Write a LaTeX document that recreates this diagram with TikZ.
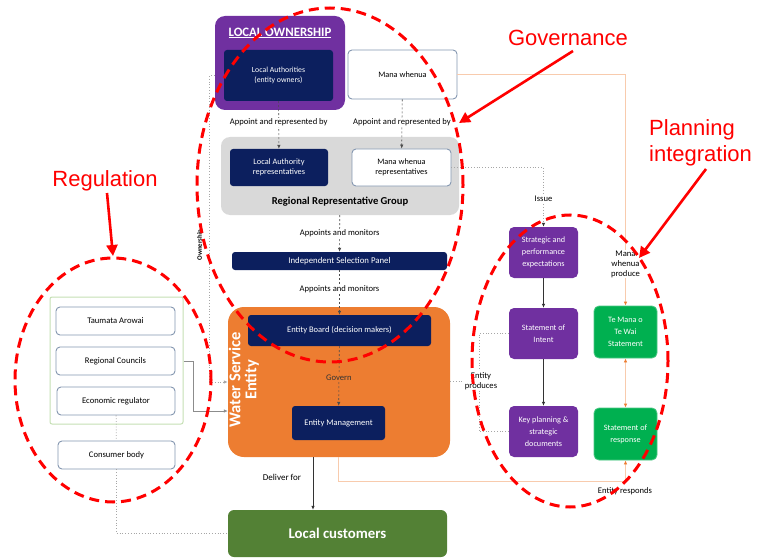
\documentclass[tikz,border=0pt]{standalone}
\usepackage{fontspec}
\setmainfont{Carlito}
\newfontfamily\arialf{Liberation Sans}
\usetikzlibrary{arrows.meta}
\definecolor{ownpurple}{HTML}{7030A0}
\definecolor{navy}{HTML}{0C1F5E}
\definecolor{greybg}{HTML}{D9D9D9}
\definecolor{wseorange}{HTML}{ED7D31}
\definecolor{custgreen}{HTML}{538135}
\definecolor{brightgreen}{HTML}{00B050}
\definecolor{boxborder}{HTML}{8497B0}
\definecolor{reggreen}{HTML}{C5E0B4}
\definecolor{lineorange}{HTML}{F8CBAD}
\definecolor{dotgrey}{HTML}{A6A6A6}
\definecolor{annred}{HTML}{FF0000}
\tikzset{
  box/.style={rounded corners=4pt, inner sep=1pt, align=center, font=\fontsize{8.3}{10}\selectfont},
  navybox/.style={box, fill=navy, text=white, rounded corners=3pt},
  whitebox/.style={box, fill=white, draw=boxborder, line width=0.9pt},
  regbox/.style={whitebox, font=\fontsize{8.6}{10}\selectfont},
  purplebox/.style={box, fill=ownpurple, text=white, font=\fontsize{8.2}{12}\selectfont, rounded corners=5pt},
  greenbox/.style={box, fill=brightgreen, draw=brightgreen!70!white, line width=0.8pt, text=white, font=\fontsize{8.2}{12}\selectfont, rounded corners=5pt},
  lbl/.style={font=\fontsize{8.6}{10}\selectfont, inner sep=1pt, fill=white, align=center},
  tip/.style={-{Latex[length=4pt,width=3.5pt]}},
  dashconn/.style={draw=black!70, dash pattern=on 2pt off 2pt, line width=0.6pt, tip},
  dotconn/.style={draw=dotgrey, dotted, line width=0.8pt},
  solidconn/.style={draw=black!80, line width=0.7pt, tip},
  greyconn/.style={draw=black!45, line width=0.6pt},
  orconn/.style={draw=lineorange, line width=0.8pt},
  ortip/.style={-{Latex[length=4pt,width=3.5pt,color=wseorange]}},
  annot/.style={draw=annred, line width=3pt, dash pattern=on 10pt off 6pt},
  annarrow/.style={draw=annred, line width=2.6pt, -{Triangle[length=11pt,width=11pt]}},
  anntext/.style={text=annred, font=\arialf\fontsize{22}{26}\selectfont, inner sep=0pt, align=left}
}
\begin{document}
\begin{tikzpicture}[x=1pt,y=-1pt]
\useasboundingbox[fill=white] (0,0) rectangle (763,559);

% ---------- Governance ----------
\node[fill=ownpurple, rounded corners=10pt, minimum width=130pt, minimum height=94pt] (own) at (280,63) {};
\node[text=white, font=\bfseries\fontsize{12.8}{14}\selectfont, inner sep=0pt] (ownt) at (280,33) {\underline{LOCAL OWNERSHIP}};
\node[navybox, minimum width=109pt, minimum height=51pt, font=\fontsize{7.8}{10}\selectfont] (la) at (278.5,75.5) {Local Authorities\\(entity owners)};
\node[whitebox, minimum width=109pt, minimum height=49pt] (mw) at (402.5,74.5) {Mana whenua};

\node[fill=greybg, rounded corners=9pt, minimum width=238pt, minimum height=78pt] (rrg) at (340,176) {};
\node[font=\bfseries\fontsize{10.6}{12}\selectfont, inner sep=0pt] (rrgt) at (340,202) {Regional Representative Group};
\node[navybox, minimum width=98pt, minimum height=37pt] (lar) at (279,167.5) {Local Authority\\representatives};
\node[whitebox, minimum width=99pt, minimum height=37pt] (mwr) at (401.5,167.5) {Mana whenua\\representatives};

\draw[dashconn] (la) -- node[lbl, pos=0.45]{Appoint and represented by} (lar);
\draw[dashconn] (mw) -- node[lbl, pos=0.47]{Appoint and represented by} (mwr);

\node[navybox, minimum width=215pt, minimum height=18pt, font=\fontsize{8.8}{10}\selectfont] (isp) at (339.5,261) {Independent Selection Panel};
\draw[dashconn] (rrg) -- node[lbl]{Appoints and monitors} (isp);

% ---------- Water Service Entity ----------
\node[fill=wseorange, rounded corners=16pt, minimum width=222pt, minimum height=150pt] (wse) at (339,382) {};
\node[rotate=90, text=white, font=\bfseries\fontsize{16.5}{16}\selectfont, align=center, inner sep=0pt] (wset) at (244,380) {Water Service\\Entity};
\node[navybox, minimum width=183pt, minimum height=31pt, font=\fontsize{8.5}{10}\selectfont] (eb) at (339.5,330.5) {Entity Board (decision makers)};
\node[navybox, minimum width=93pt, minimum height=34pt, font=\fontsize{8.5}{10}\selectfont] (em) at (338.5,423) {Entity Management};
\draw[dashconn] (isp) -- node[lbl, pos=0.42]{Appoints and monitors} (eb);
\draw[dashconn] (eb) -- node[lbl, fill=wseorange, text=black!80, pos=0.53]{Govern} (em);

% ---------- Local customers ----------
\node[fill=custgreen, rounded corners=6pt, minimum width=219pt, minimum height=47pt, text=white, font=\bfseries\fontsize{14.8}{16}\selectfont] (lc) at (337.5,533.5) {Local customers};
\coordinate (dlv) at (313,480);
\draw[solidconn] (wse.south -| dlv) -- (lc.north -| dlv);
\node[font=\fontsize{9}{10}\selectfont, inner sep=1pt] (dlvt) at (282,477) {Deliver for};

% ---------- Regulation ----------
\node[draw=reggreen, line width=1pt, rounded corners=2pt, minimum width=133pt, minimum height=127pt] (reg) at (116.5,360.5) {};
\node[regbox, minimum width=119pt, minimum height=28pt] (ta) at (115.5,321) {Taumata Arowai};
\node[regbox, minimum width=119pt, minimum height=28pt] (rc) at (115.5,361) {Regional Councils};
\node[regbox, minimum width=118pt, minimum height=28pt] (ec) at (116,401) {Economic regulator};
\node[regbox, minimum width=117pt, minimum height=28pt] (cb) at (116.5,455) {Consumer body};
\draw[dotconn] (ec) -- (cb);
\draw[dotconn] (cb.south) |- (lc.west);
\draw[greyconn, tip] (reg.east |- rc.east) -- ++(10,0) |- ([yshift=-29pt]wse.west);

% Ownership
\draw[dotconn, tip] (own.west |- la.west) -- ++(-5,0) |- (wse.west);
\node[rotate=90, font=\bfseries\fontsize{6.8}{7}\selectfont, inner sep=0pt] (ownl) at (200,245) {Ownership};

% ---------- Planning ----------
\node[purplebox, minimum width=69pt, minimum height=51pt] (sp) at (543.5,252.5) {Strategic and\\performance\\expectations};
\node[purplebox, minimum width=69pt, minimum height=51pt] (soi) at (543.5,333.5) {Statement of\\Intent};
\node[purplebox, minimum width=69pt, minimum height=51pt] (kp) at (543.5,431.5) {Key planning \&\\strategic\\documents};
\node[greenbox, minimum width=63pt, minimum height=52pt] (tm) at (625.5,332) {Te Mana o\\Te Wai\\Statement};
\node[greenbox, minimum width=63pt, minimum height=52pt] (sr) at (625.5,434) {Statement of\\response};

\draw[solidconn] (sp) -- (soi);
\draw[solidconn] (soi) -- (kp);
\draw[dotconn, -{Latex[length=4pt,width=3.5pt,color=black!80]}] (mwr.east) -| node[lbl, pos=0.76]{Issue} (sp.north);

\draw[orconn, ortip] (mw.east) -| node[lbl, pos=0.91]{Mana\\whenua\\produce} (tm.north);
\draw[orconn, {Latex[length=4pt,width=3.5pt,color=wseorange]}-{Latex[length=4pt,width=3.5pt,color=wseorange]}] (tm) -- (sr);
\coordinate (rb) at (338,481);
\draw[orconn, ortip] (wse.south -| rb) -- (rb) -| (sr.south);
\node[font=\fontsize{8.6}{10}\selectfont, inner sep=1pt] (erl) at (625,491) {Entity responds};

\coordinate (ep) at (479,381);
\draw[dotconn] (wse.east |- ep) -- (ep);
\draw[dotconn] (soi.west) -| (ep);
\draw[dotconn] (kp.west) -| (ep);
\node[lbl] (epl) at (481,381) {Entity\\produces};

% ---------- Annotations ----------
\draw[annot] (330,185) ellipse [x radius=133pt, y radius=177pt];
\draw[annot] (113,380) ellipse [x radius=98pt, y radius=122pt];
\draw[annot] (570,361) ellipse [x radius=98pt, y radius=146pt];

\node[anntext] (govt) at (568,38) {Governance};
\node[anntext, anchor=west] (plt) at (649,143) {Planning\\integration};
\node[anntext] (regt) at (105,181) {Regulation};
\coordinate (govtip) at (459,123);
\coordinate (pltip) at (639,258);
\coordinate (regtip) at (113,256);
\draw[annarrow] (573,51) -- (govtip);
\draw[annarrow] (706,169) -- (pltip);
\draw[annarrow] (107,193) -- (regtip);
\end{tikzpicture}
\end{document}
